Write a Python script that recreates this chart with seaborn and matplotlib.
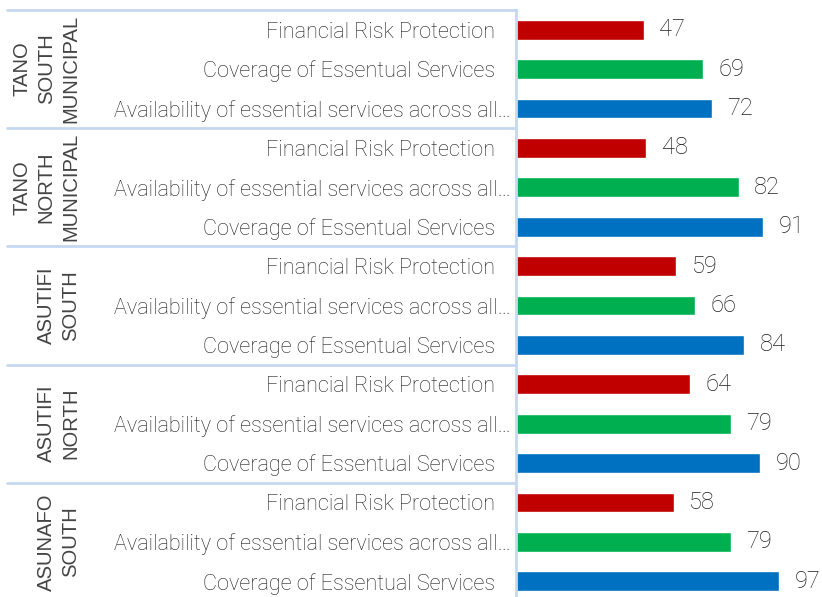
import numpy as np
import pandas as pd
import matplotlib
matplotlib.use("Agg")
import matplotlib.pyplot as plt
import matplotlib.transforms as mtransforms
import seaborn as sns

groups = ["TANO\nSOUTH\nMUNICIPAL", "TANO\nNORTH\nMUNICIPAL", "ASUTIFI\nSOUTH",
          "ASUTIFI\nNORTH", "ASUNAFO\nSOUTH"]
FRP = "Financial Risk Protection"
COV = "Coverage of Essentual Services"
AV = "Availability of essential services across all…"
categories = [[FRP, COV, AV], [FRP, AV, COV], [FRP, AV, COV], [FRP, AV, COV], [FRP, AV, COV]]
values = [[47, 69, 72], [48, 82, 91], [59, 66, 84], [64, 79, 90], [58, 79, 97]]
slot_colors = {"0": "#C00000", "1": "#00B050", "2": "#0070C0"}

rows, labels, vals, slots = [], [], [], []
for gi, g in enumerate(groups):
    for si in range(3):
        rows.append(f"{gi}-{si}")
        labels.append(categories[gi][si])
        vals.append(values[gi][si])
        slots.append(str(si))
df = pd.DataFrame({"row": rows, "label": labels, "value": vals, "slot": slots})

sns.set_theme(style="white")
plt.rcParams["font.family"] = ["Roboto", "DejaVu Sans"]
txt_color = "#1f1f1f"
line_color = "#C5D8F0"

fig = plt.figure(figsize=(8.22, 5.97), dpi=100)
ax = fig.add_axes([516 / 822, 1 - 601 / 597, 296 / 822, 591 / 597])
sns.barplot(data=df, x="value", y="row", hue="slot", palette=slot_colors, order=rows,
            dodge=False, width=0.5, legend=False, ax=ax, saturation=1)

for c in ax.containers:
    ax.bar_label(c, padding=11, fontsize=17, color=txt_color, fontweight="light")

ax.set_xlabel("")
ax.set_ylabel("")
ax.set_xticks([])
ax.set_yticks(range(len(rows)))
ax.set_yticklabels(labels, fontsize=15.6, color=txt_color, fontweight="light")
ax.tick_params(axis="y", length=0)
for t, lab in zip(ax.yaxis.get_major_ticks(), labels):
    t.set_pad(4 if lab == AV else 15)

for s in ["top", "right", "bottom"]:
    ax.spines[s].set_visible(False)
ax.spines["left"].set_color(line_color)
ax.spines["left"].set_linewidth(2)

tr = mtransforms.blended_transform_factory(fig.transFigure, ax.transData)
for gi, g in enumerate(groups):
    b = 3 * gi - 0.5
    ax.plot([7 / 822, 516 / 822], [b, b], transform=tr, clip_on=False,
            color=line_color, lw=2)
    ax.text(80 / 822, 3 * gi + 1, g, transform=tr, rotation=90, ha="right", va="center",
            multialignment="center", fontsize=14.6, color="#444444",
            family=["Liberation Sans", "DejaVu Sans"], linespacing=1.35)

ax.set_xlim(0, 109)
ax.set_ylim(len(rows) - 0.5, -0.5)

fig.savefig("out.png", dpi=100)
